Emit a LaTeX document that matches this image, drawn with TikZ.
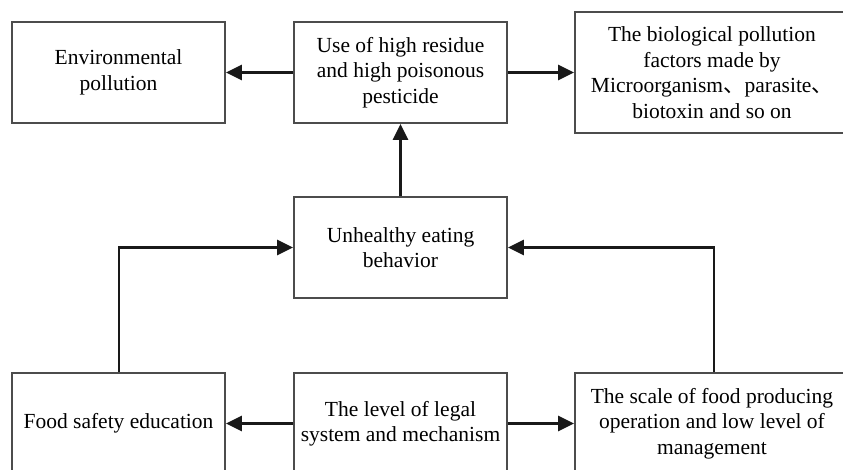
\documentclass[tikz,border=0pt]{standalone}
\usepackage{fontspec}
\setmainfont{Liberation Serif}
\newfontfamily\cjk{Noto Sans CJK SC}
\usetikzlibrary{arrows.meta}
\tikzset{
  box/.style={draw=black!70, line width=1.8pt, fill=white, rectangle, align=center,
    inner sep=2pt, font=\fontsize{21.5}{25.5}\selectfont},
  conn/.style={line width=2.5pt, black!90, -{Triangle[length=16pt,width=15pt]}}
}
\begin{document}
\begin{tikzpicture}[x=1pt,y=1pt]
\useasboundingbox (0,0) rectangle (843,469);
\fill[white] (0,0) rectangle (843,469);
\clip (0,0) rectangle (843,469);
\node[box, minimum width=213pt, minimum height=101pt] (env) at (118.5,396.5) {Environmental\\pollution};
\node[box, minimum width=213pt, minimum height=101pt] (use) at (400.5,396.5) {Use of high residue\\and high poisonous\\pesticide};
\node[box, minimum width=274pt, minimum height=121pt] (bio) at (712,396.5) {The biological pollution\\factors made by\\Microorganism{\cjk 、}parasite{\cjk 、}\\biotoxin and so on};
\node[box, minimum width=213pt, minimum height=101pt] (eat) at (400.5,221.5) {Unhealthy eating\\behavior};
\node[box, minimum width=213pt, minimum height=101pt] (edu) at (118.5,45.5) {Food safety education};
\node[box, minimum width=213pt, minimum height=101pt] (leg) at (400.5,45.5) {The level of legal\\system and mechanism};
\node[box, minimum width=274pt, minimum height=101pt] (scl) at (712,45.5) {The scale of food producing\\operation and low level of\\management};
\draw[conn] (use.west) -- (env.east);
\draw[conn] (use.east) -- (bio.west);
\draw[conn] (eat.north) -- (use.south);
\draw[conn] (leg.west) -- (edu.east);
\draw[conn] (leg.east) -- (scl.west);
\coordinate (lt) at (119,221.5);
\coordinate (rt) at (714,221.5);
\draw[conn] (edu.north -| lt) -- (lt) -- (eat.west);
\draw[conn] (scl.north -| rt) -- (rt) -- (eat.east);
\end{tikzpicture}
\end{document}
